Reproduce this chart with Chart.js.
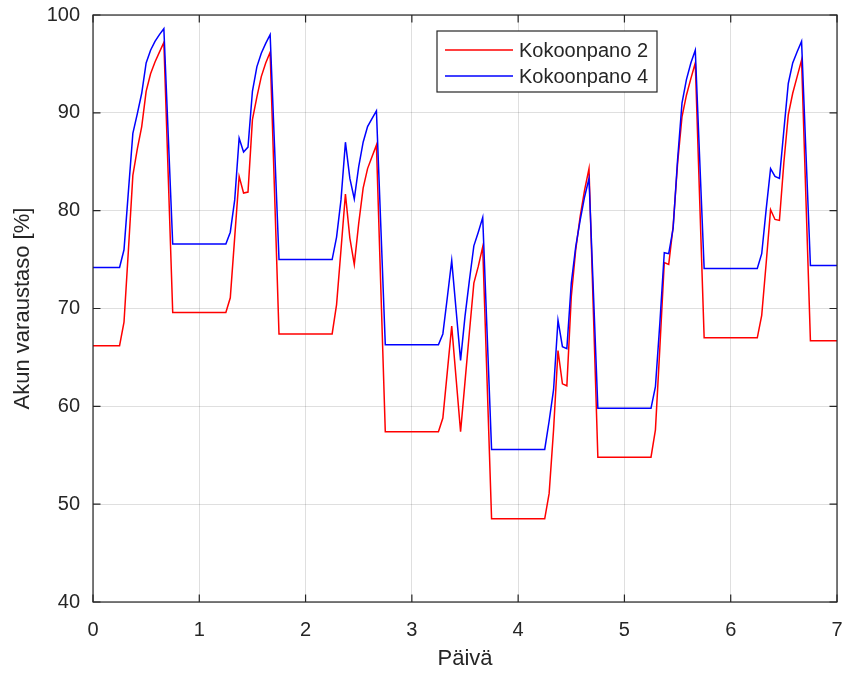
<!DOCTYPE html>
<html><head><meta charset="utf-8">
<script src="https://cdn.jsdelivr.net/npm/chart.js@4/dist/chart.umd.min.js"></script>
<style>html,body{margin:0;padding:0;background:#fff}canvas{display:block}</style>
</head><body>
<canvas id="c" width="842" height="673"></canvas>
<script>
// Hourly samples over 7 days (x = hour / 24 days)
const seriesNames = ['Kokoonpano 2', 'Kokoonpano 4'];
const xTicks = [0, 1, 2, 3, 4, 5, 6, 7];
const yTicks = [40, 50, 60, 70, 80, 90, 100];

const kokoonpano2 = [
  66.2,66.2,66.2,66.2,66.2,66.2,66.2, 68.6,76.0,83.6,86.3,88.6,92.2,94.0,95.2,96.2,97.2,83.4,
  69.6,69.6,69.6,69.6,69.6,69.6,69.6,69.6,69.6,69.6,69.6,69.6,69.6, 71.1,77.3,83.5,81.8,81.9,89.3,91.6,93.7,95.1,96.2,81.8,
  67.4,67.4,67.4,67.4,67.4,67.4,67.4,67.4,67.4,67.4,67.4,67.4,67.4, 70.4,76.0,81.7,77.2,74.5,78.7,82.3,84.3,85.5,86.7,72.0,
  57.4,57.4,57.4,57.4,57.4,57.4,57.4,57.4,57.4,57.4,57.4,57.4,57.4, 58.8,63.5,68.2,62.8,57.4,62.5,67.6,72.6,74.3,76.3,62.4,
  48.5,48.5,48.5,48.5,48.5,48.5,48.5,48.5,48.5,48.5,48.5,48.5,48.5, 51.1,57.6,65.7,62.3,62.1,71.2,76.0,79.4,82.1,84.3,69.5,
  54.8,54.8,54.8,54.8,54.8,54.8,54.8,54.8,54.8,54.8,54.8,54.8,54.8, 57.6,66.0,74.7,74.5,78.4,84.8,89.6,91.8,93.5,95.1,81.0,
  67.0,67.0,67.0,67.0,67.0,67.0,67.0,67.0,67.0,67.0,67.0,67.0,67.0, 69.3,74.6,80.1,79.1,79.0,84.9,89.8,92.0,93.7,95.4,81.0,
  66.7,66.7,66.7,66.7,66.7,66.7,66.7
];
const kokoonpano4 = [
  74.2,74.2,74.2,74.2,74.2,74.2,74.2, 76.0,82.0,87.9,89.9,92.0,95.1,96.4,97.3,98.0,98.6,87.6,
  76.6,76.6,76.6,76.6,76.6,76.6,76.6,76.6,76.6,76.6,76.6,76.6,76.6, 77.8,81.1,87.4,86.0,86.5,92.2,94.7,96.1,97.1,98.0,86.5,
  75.0,75.0,75.0,75.0,75.0,75.0,75.0,75.0,75.0,75.0,75.0,75.0,75.0, 77.3,81.1,87.0,83.3,81.2,84.5,87.0,88.6,89.4,90.2,78.3,
  66.3,66.3,66.3,66.3,66.3,66.3,66.3,66.3,66.3,66.3,66.3,66.3,66.3, 67.4,71.1,74.9,69.8,64.7,69.2,72.9,76.4,77.8,79.3,67.4,
  55.6,55.6,55.6,55.6,55.6,55.6,55.6,55.6,55.6,55.6,55.6,55.6,55.6, 58.5,61.7,68.8,66.1,65.9,72.6,76.3,79.0,81.4,83.3,71.6,
  59.8,59.8,59.8,59.8,59.8,59.8,59.8,59.8,59.8,59.8,59.8,59.8,59.8, 62.0,68.5,75.7,75.6,78.2,85.2,91.0,93.4,95.1,96.4,85.2,
  74.1,74.1,74.1,74.1,74.1,74.1,74.1,74.1,74.1,74.1,74.1,74.1,74.1, 75.6,80.1,84.3,83.5,83.3,88.2,93.0,95.1,96.25,97.3,85.8,
  74.4,74.4,74.4,74.4,74.4,74.4,74.4
];

const hours = kokoonpano2.map((_, i) => i);
const toPoints = vals => vals.map((v, i) => ({ x: hours[i] / 24, y: v }));

const FONT = "'Liberation Sans', Arial, Helvetica, sans-serif";
const TXT = '#262626';
Chart.defaults.font.family = FONT;
Chart.defaults.color = TXT;

const noPad = s => { s.paddingTop = 0; s.paddingBottom = 0; s.paddingLeft = 0; s.paddingRight = 0; };

const framePlugin = {
  id: 'frame',
  afterDatasetsDraw(chart) {
    const { ctx, chartArea: a, scales: { x, y } } = chart;
    ctx.save();
    ctx.strokeStyle = TXT;
    ctx.lineWidth = 1.2;
    ctx.beginPath();
    const L = 7.5;
    x.ticks.forEach(t => {
      const px = x.getPixelForValue(t.value);
      ctx.moveTo(px, a.bottom); ctx.lineTo(px, a.bottom - L);
      ctx.moveTo(px, a.top); ctx.lineTo(px, a.top + L);
    });
    y.ticks.forEach(t => {
      const py = y.getPixelForValue(t.value);
      ctx.moveTo(a.left, py); ctx.lineTo(a.left + L, py);
      ctx.moveTo(a.right, py); ctx.lineTo(a.right - L, py);
    });
    ctx.stroke();
    ctx.strokeRect(a.left, a.top, a.right - a.left, a.bottom - a.top);
    ctx.restore();
  },
  afterDraw(chart) {
    const { ctx } = chart;
    const ds = chart.data.datasets;
    const bx = 437, by = 31, bw = 220, bh = 61;
    ctx.save();
    ctx.fillStyle = '#fff';
    ctx.fillRect(bx, by, bw, bh);
    ctx.strokeStyle = TXT;
    ctx.lineWidth = 1.2;
    ctx.strokeRect(bx, by, bw, bh);
    ctx.font = '20px ' + FONT;
    ctx.textBaseline = 'middle';
    ctx.textAlign = 'left';
    ds.forEach((d, i) => {
      const yy = by + 19 + i * 26;
      ctx.strokeStyle = d.borderColor;
      ctx.lineWidth = 1.5;
      ctx.beginPath();
      ctx.moveTo(bx + 8, yy); ctx.lineTo(bx + 76, yy);
      ctx.stroke();
      ctx.fillStyle = TXT;
      ctx.fillText(d.label, bx + 82, yy + 1);
    });
    ctx.restore();
  }
};

new Chart(document.getElementById('c'), {
  type: 'line',
  data: {
    datasets: [
      { label: seriesNames[0], data: toPoints(kokoonpano2), borderColor: '#ff0000', borderWidth: 1.5, pointRadius: 0, tension: 0, order: 1 },
      { label: seriesNames[1], data: toPoints(kokoonpano4), borderColor: '#0000ff', borderWidth: 1.5, pointRadius: 0, tension: 0, order: 0 }
    ]
  },
  options: {
    responsive: false,
    animation: false,
    devicePixelRatio: 1,
    layout: { padding: { top: 15, right: 5, left: 0, bottom: 0 } },
    plugins: { legend: { display: false }, tooltip: { enabled: false } },
    scales: {
      x: {
        type: 'linear', min: 0, max: 7,
        afterBuildTicks: s => { s.ticks = xTicks.map(v => ({ value: v })); },
        ticks: { font: { size: 20 }, color: TXT, padding: 16, maxRotation: 0 },
        grid: { color: 'rgba(38,38,38,0.15)', lineWidth: 1, drawTicks: false },
        border: { display: false },
        title: { display: true, text: 'Päivä', font: { size: 22 }, color: TXT, padding: { top: 0, bottom: 1 } },
        afterFit: s => { s.height = 71; noPad(s); }
      },
      y: {
        type: 'linear', min: 40, max: 100,
        afterBuildTicks: s => { s.ticks = yTicks.map(v => ({ value: v })); },
        ticks: { font: { size: 20 }, color: TXT, padding: 13 },
        grid: { color: 'rgba(38,38,38,0.15)', lineWidth: 1, drawTicks: false },
        border: { display: false },
        title: { display: true, text: 'Akun varaustaso [%]', font: { size: 22 }, color: TXT, padding: { top: 10, bottom: 0 } },
        afterFit: s => { s.width = 93; noPad(s); }
      }
    }
  },
  plugins: [framePlugin]
});
</script>
</body></html>
